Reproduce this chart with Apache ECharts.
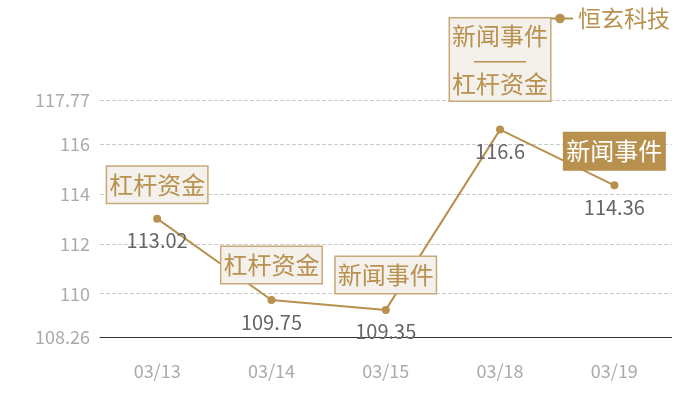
<!DOCTYPE html>
<html><head><meta charset="utf-8">
<script src="https://cdn.jsdelivr.net/npm/echarts@6/dist/echarts.min.js"></script>
<style>html,body{margin:0;padding:0;background:#fff}#c{width:700px;height:400px}</style>
</head><body><div id="c"></div>
<script>
var categories = ['03/13', '03/14', '03/15', '03/18', '03/19'];
var values = [113.02, 109.75, 109.35, 116.6, 114.36];
var seriesName = '恒玄科技';
var yMin = 108.26, yMax = 117.77;
var events = [
  {idx: 0, text: '杠杆资金', hi: false, up: 34},
  {idx: 1, text: '杠杆资金', hi: false, up: 35},
  {idx: 2, text: '新闻事件', hi: false, up: 35},
  {idx: 3, text: '{a|新闻事件}\n{d|———}\n{a|杠杆资金}', hi: false, up: 70},
  {idx: 4, text: '新闻事件', hi: true, up: 34}
];
var tan = '#b8914f';
var font = '"Noto Sans CJK SC", "Noto Sans", sans-serif';
var chart = echarts.init(document.getElementById('c'));
chart.setOption({
  textStyle: {fontFamily: font},
  legend: {
    right: 25, top: 2, itemWidth: 26, itemHeight: 12, itemGap: 8,
    textStyle: {color: tan, fontSize: 23, fontFamily: font},
    data: [{name: seriesName}]
  },
  grid: {left: 100, right: 28.5, top: 100.5, bottom: 63},
  xAxis: {
    type: 'category', data: categories, boundaryGap: true,
    axisLine: {lineStyle: {color: '#333', width: 1}},
    axisTick: {show: false},
    axisLabel: {color: '#aaa', fontSize: 18, margin: 25, fontFamily: font},
    splitLine: {show: false}
  },
  yAxis: {
    type: 'value', min: yMin, max: yMax, splitNumber: 5,
    axisLine: {show: false}, axisTick: {show: false},
    axisLabel: {color: '#aaa', fontSize: 18, margin: 10, fontFamily: font},
    splitLine: {lineStyle: {color: '#ccc', type: 'dashed', width: 1}}
  },
  series: [{
    name: seriesName, type: 'line', data: values,
    color: tan, symbol: 'circle', symbolSize: 8,
    lineStyle: {color: tan, width: 2},
    itemStyle: {color: tan},
    label: {show: true, position: 'bottom', distance: 8, color: '#666', fontSize: 20, fontFamily: font},
    markPoint: {
      symbol: 'circle', symbolSize: 0, silent: true,
      data: events.map(function (e) {
        return {
          coord: [categories[e.idx], values[e.idx]],
          label: {
            show: true, position: 'inside', offset: [0, -e.up],
            formatter: e.text,
            fontSize: 24, lineHeight: 30, fontFamily: font,
            color: e.hi ? '#fff' : tan,
            backgroundColor: e.hi ? tan : '#f4f0eb',
            borderColor: e.hi ? tan : '#c9a877', borderWidth: 1.5,
            padding: [3, 2, 3, 2],
            rich: {
              a: {fontSize: 24, lineHeight: 28, color: tan, fontFamily: font},
              d: {fontSize: 22, lineHeight: 20, color: tan, fontFamily: font}
            }
          }
        };
      })
    },
    z: 3
  }]
});
</script></body></html>
